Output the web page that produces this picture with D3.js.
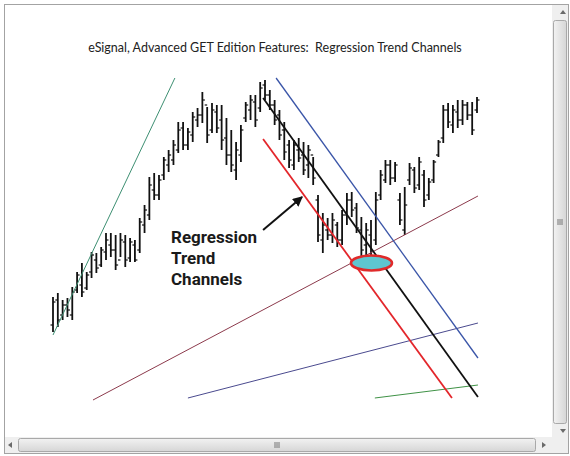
<!DOCTYPE html>
<html>
<head>
<meta charset="utf-8">
<script src="https://cdn.jsdelivr.net/npm/d3@7"></script>
<style>
  body { margin: 0; background: #fff; }
  svg { display: block; }
  .title { white-space: pre; }
</style>
</head>
<body>
<script>
const width = 570;
const height = 456;

// daily bars (price units), index = bar number
const highs = [1103,1107,1100,1102,1113,1128,1137,1128,1148,1147,1153,1167,1167,1165,1167,1165,1162,1160,1182,1195,
  1223,1227,1225,1243,1250,1260,1278,1278,1272,1288,1292,1308,1293,1297,1295,1295,1282,1270,1258,1275,
  1298,1305,1305,1318,1320,1310,1300,1290,1278,1260,1260,1262,1258,1255,1243,1205,1187,1182,1187,1178,
  1190,1207,1208,1197,1183,1177,1180,1208,1230,1240,1240,1238,1207,1213,1237,1233,1243,1230,1222,1240,
  1260,1295,1297,1295,1300,1300,1298,1298,1303];
const lows = [1068,1073,1080,1083,1080,1107,1103,1110,1122,1127,1133,1140,1143,1130,1143,1133,1138,1138,1147,1167,
  1180,1200,1200,1220,1228,1235,1247,1250,1250,1258,1273,1277,1257,1267,1267,1250,1235,1228,1220,1238,
  1278,1280,1273,1288,1300,1290,1275,1260,1240,1232,1230,1238,1225,1222,1215,1158,1147,1160,1157,1153,
  1155,1175,1183,1167,1142,1145,1130,1155,1200,1217,1215,1218,1175,1165,1215,1207,1210,1193,1200,1217,
  1243,1257,1272,1267,1272,1275,1280,1265,1287];
const opens = [1075,1100,1085,1095,1085,1110,1115,1112,1128,1140,1135,1148,1155,1150,1140,1158,1142,1155,1150,1175,
  1185,1210,1205,1225,1235,1240,1250,1272,1255,1265,1280,1285,1295,1270,1288,1280,1262,1245,1230,1245,
  1282,1290,1298,1292,1315,1305,1295,1285,1270,1255,1235,1250,1245,1235,1245,1200,1160,1170,1165,1175,
  1160,1185,1200,1192,1170,1155,1165,1160,1205,1220,1235,1222,1200,1170,1220,1230,1215,1225,1205,1220,
  1245,1262,1290,1275,1288,1280,1295,1285,1290];
const closes = [1098,1080,1095,1090,1108,1125,1108,1125,1145,1132,1150,1160,1150,1135,1160,1140,1158,1140,1178,1190,
  1215,1205,1220,1240,1245,1255,1270,1255,1268,1283,1285,1300,1265,1290,1272,1260,1245,1235,1250,1270,
  1295,1300,1280,1312,1305,1295,1280,1265,1248,1240,1255,1242,1230,1250,1222,1165,1175,1165,1180,1160,
  1185,1200,1190,1172,1150,1170,1140,1200,1225,1235,1222,1235,1180,1195,1232,1212,1238,1200,1218,1238,
  1258,1290,1278,1290,1280,1295,1285,1270,1300];

// drawn lines: [bar index, price] end points
const upTrendLine   = [[0, 1065], [25.3, 1322]];
const channelTop    = [[46.3, 1322], [88.2, 1042]];
const channelMid    = [[43.6, 1302], [88.2, 1003]];
const channelBottom = [[43.6, 1261], [82.8, 1002]];
const supportLine   = [[8.3, 1000], [88.2, 1204]];
const lowerLine     = [[28.0, 1002], [88.2, 1077]];
const bottomLine    = [[66.8, 1002], [88.2, 1015]];

const touchPoint = [66.1, 1137];
const arrowPts = [[43.6, 1170], [51.7, 1203]];
const labelLines = ['Regression', 'Trend', 'Channels'];
const title = 'eSignal, Advanced GET Edition Features:  Regression Trend Channels';

const svg = d3.select('body')
    .append('svg')
    .attr('width', width)
    .attr('height', height);

const x = d3.scaleLinear().domain([0, highs.length - 1]).range([53, 477]);
const y = d3.scaleLinear().domain([1000, 1340]).range([400, 60]);

// window frame
svg.append('rect')
    .attr('x', 4.5).attr('y', 4.5)
    .attr('width', 564).attr('height', 449)
    .attr('fill', '#fff')
    .attr('stroke', '#a3a3a3');

svg.append('text')
    .attr('class', 'title')
    .attr('x', 275)
    .attr('y', 52)
    .attr('text-anchor', 'middle')
    .attr('font-family', 'Lato, "Open Sans", sans-serif')
    .attr('font-size', 12.5)
    .attr('fill', '#222')
    .text(title);

const line = d3.line().x(d => x(d[0])).y(d => y(d[1]));

const lines = [
    { pts: upTrendLine, color: '#3d8f72', w: 1 },
    { pts: supportLine, color: '#8c3a4c', w: 1 },
    { pts: lowerLine, color: '#4a4a8e', w: 1 },
    { pts: bottomLine, color: '#3f9246', w: 1 },
    { pts: channelTop, color: '#3a55a8', w: 1.3 },
    { pts: channelBottom, color: '#e3262b', w: 1.8 },
    { pts: channelMid, color: '#111', w: 1.8 }
];

// bars
const bars = svg.append('g')
    .selectAll('g')
    .data(highs.map((h, i) => ({ i, h, l: lows[i], o: opens[i], c: closes[i] })))
    .join('g')
    .attr('stroke', '#111');

bars.append('line')
    .attr('x1', d => x(d.i)).attr('x2', d => x(d.i))
    .attr('y1', d => y(d.h)).attr('y2', d => y(d.l))
    .attr('stroke-width', 1.8);
bars.append('line')
    .attr('x1', d => x(d.i) - 2.5).attr('x2', d => x(d.i))
    .attr('y1', d => y(d.o)).attr('y2', d => y(d.o))
    .attr('stroke-width', 1.2);
bars.append('line')
    .attr('x1', d => x(d.i)).attr('x2', d => x(d.i) + 2.5)
    .attr('y1', d => y(d.c)).attr('y2', d => y(d.c))
    .attr('stroke-width', 1.2);

svg.append('g')
    .selectAll('path')
    .data(lines)
    .join('path')
    .attr('d', d => line(d.pts))
    .attr('fill', 'none')
    .attr('stroke', d => d.color)
    .attr('stroke-width', d => d.w);

// highlighted touch point
svg.append('ellipse')
    .attr('cx', x(touchPoint[0]))
    .attr('cy', y(touchPoint[1]))
    .attr('rx', 20.5)
    .attr('ry', 7.5)
    .attr('fill', '#5ec6d0')
    .attr('stroke', '#e02a2a')
    .attr('stroke-width', 2.6);

// label + arrow
svg.append('defs').append('marker')
    .attr('id', 'head')
    .attr('viewBox', '0 0 10 10')
    .attr('refX', 9).attr('refY', 5)
    .attr('markerWidth', 5).attr('markerHeight', 5)
    .attr('orient', 'auto')
    .append('path')
    .attr('d', 'M0,0L10,5L0,10Z')
    .attr('fill', '#111');

svg.append('path')
    .attr('d', line(arrowPts))
    .attr('stroke', '#111')
    .attr('stroke-width', 2)
    .attr('marker-end', 'url(#head)');

svg.append('g')
    .selectAll('text')
    .data(labelLines)
    .join('text')
    .attr('x', 171)
    .attr('y', (d, i) => 243 + i * 21)
    .attr('font-family', 'Roboto, sans-serif')
    .attr('font-weight', 'bold')
    .attr('font-size', 17)
    .attr('fill', '#1a1a1a')
    .text(d => d);

// scrollbars
const grad = svg.select('defs').append('linearGradient')
    .attr('id', 'thumbV').attr('x1', 0).attr('x2', 1).attr('y1', 0).attr('y2', 0);
grad.append('stop').attr('offset', 0).attr('stop-color', '#f2f2f2');
grad.append('stop').attr('offset', 1).attr('stop-color', '#d6d6d6');
const gradH = svg.select('defs').append('linearGradient')
    .attr('id', 'thumbH').attr('x1', 0).attr('x2', 0).attr('y1', 0).attr('y2', 1);
gradH.append('stop').attr('offset', 0).attr('stop-color', '#f2f2f2');
gradH.append('stop').attr('offset', 1).attr('stop-color', '#d6d6d6');

svg.append('rect').attr('x', 552).attr('y', 5).attr('width', 16).attr('height', 448).attr('fill', '#efefef');
svg.append('rect').attr('x', 5).attr('y', 437).attr('width', 547).attr('height', 16).attr('fill', '#efefef');
svg.append('rect').attr('x', 553.5).attr('y', 20.5).attr('width', 13).attr('height', 403)
    .attr('rx', 2).attr('fill', 'url(#thumbV)').attr('stroke', '#a9a9a9');
svg.append('rect').attr('x', 18.5).attr('y', 438.5).attr('width', 517).attr('height', 13)
    .attr('rx', 2).attr('fill', 'url(#thumbH)').attr('stroke', '#a9a9a9');

const arrows = [
    'M560,14L563,10L566,14Z', 'M560,429L563,433L566,429Z',
    'M12,442L8,445L12,448Z', 'M542,442L546,445L542,448Z'
];
svg.append('g').selectAll('path').data(arrows).join('path')
    .attr('d', d => d).attr('fill', '#6a6a6a');

// grips
[-2, 0, 2].forEach(o => {
    svg.append('line').attr('x1', 277 + o).attr('x2', 277 + o).attr('y1', 442).attr('y2', 448)
        .attr('stroke', '#777').attr('stroke-width', 1);
    svg.append('line').attr('x1', 557).attr('x2', 563).attr('y1', 222 + o).attr('y2', 222 + o)
        .attr('stroke', '#777').attr('stroke-width', 1);
});
</script>
</body>
</html>
